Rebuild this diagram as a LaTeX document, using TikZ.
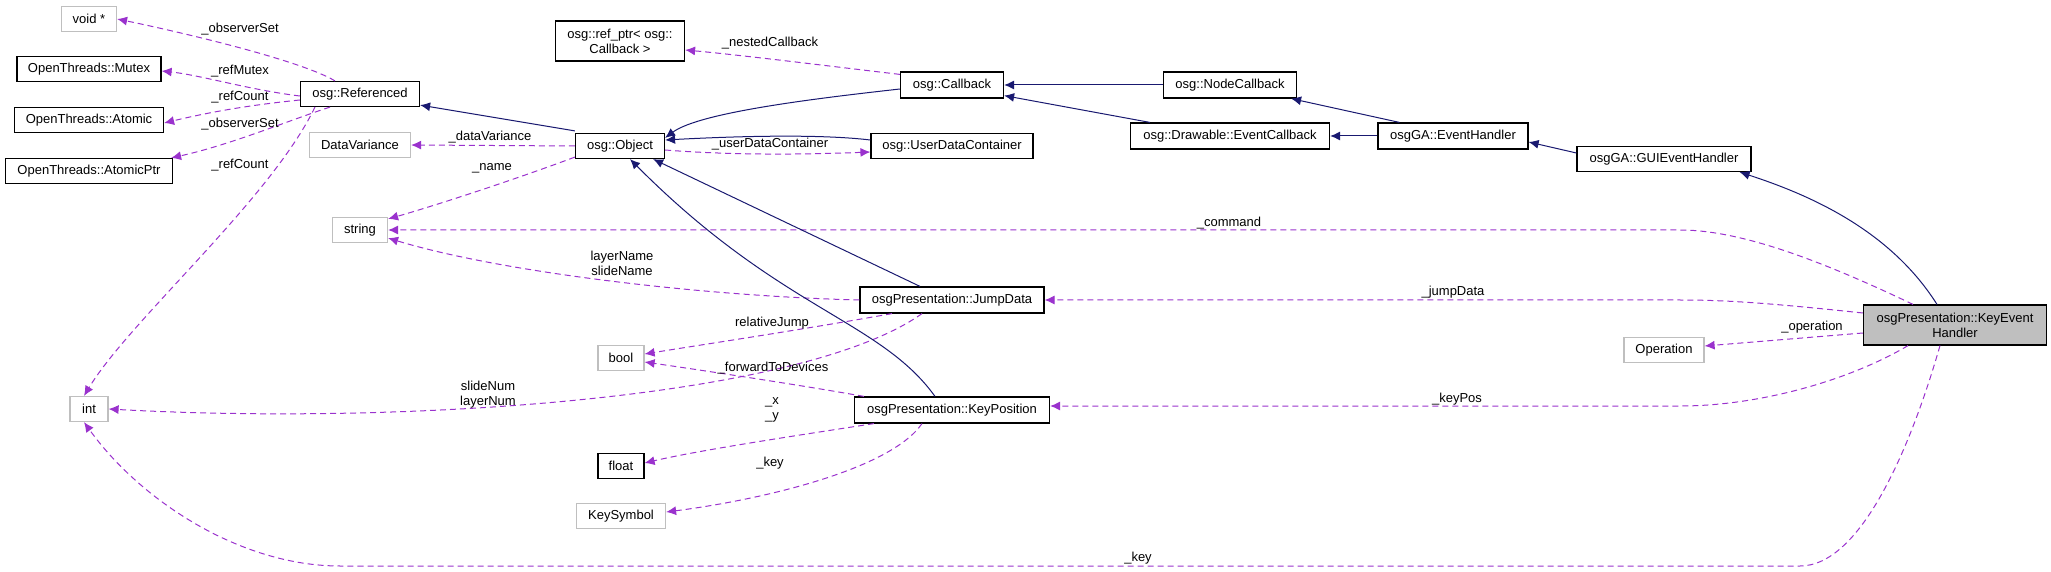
\documentclass[tikz,border=0pt]{standalone}
\usepackage{fontspec}
\setmainfont{Liberation Sans}
\usetikzlibrary{arrows.meta,calc}
\definecolor{navy}{HTML}{191970}
\definecolor{orch}{HTML}{9A32CD}
\definecolor{gbord}{HTML}{BFBFBF}
\begin{document}
\begin{tikzpicture}[x=0.5pt,y=-0.5pt,
  every node/.style={font=\fontsize{6.5}{7.5}\selectfont, inner sep=0pt},
  box/.style={draw=black, line width=0.6pt, minimum height=12.5pt, fill=white},
  gbox/.style={draw=gbord, line width=0.6pt, minimum height=12.5pt, fill=white},
  lbl/.style={align=center},
  inh/.style={draw=navy, line width=0.5pt, -{Latex[length=5pt,width=4.5pt]}},
  dep/.style={draw=orch, line width=0.5pt, dash pattern=on 3pt off 2pt, -{Latex[length=5pt,width=4.5pt]}}]
\useasboundingbox (0,0) rectangle (2051,572);
% nodes
\node[gbox, minimum width=27.5pt] (V) at (89,19) {void *};
\node[box, minimum width=72pt] (M) at (89,69) {OpenThreads::Mutex};
\node[box, minimum width=74.5pt] (A) at (89,120) {OpenThreads::Atomic};
\node[box, minimum width=83.5pt] (AP) at (89,171) {OpenThreads::AtomicPtr};
\node[box, minimum width=59.5pt] (R) at (360,94) {osg::Referenced};
\node[gbox, minimum width=50.5pt] (DV) at (360,145) {DataVariance};
\node[gbox, minimum width=27.5pt] (S) at (360,230) {string};
\node[gbox, minimum width=19pt] (I) at (89,409) {int};
\node[box, minimum width=44.5pt] (O) at (620,146) {osg::Object};
\node[box, minimum width=64.5pt, minimum height=20pt, align=center] (RP) at (620,41) {osg::ref\_ptr< osg::\\Callback >};
\node[box, minimum width=51.5pt, minimum height=13pt] (CB) at (952,85) {osg::Callback};
\node[box, minimum width=66.5pt, minimum height=13pt] (NC) at (1230,85) {osg::NodeCallback};
\node[box, minimum width=81pt] (UDC) at (952,146) {osg::UserDataContainer};
\node[box, minimum width=99.5pt, minimum height=13pt] (EC) at (1230,136) {osg::Drawable::EventCallback};
\node[box, minimum width=75pt, minimum height=13pt] (EH) at (1453,136) {osgGA::EventHandler};
\node[box, minimum width=87pt] (GUI) at (1664,159) {osgGA::GUIEventHandler};
\node[box, minimum width=91.5pt, minimum height=20pt, fill=gbord, align=center] (KEH) at (1955,325) {osgPresentation::KeyEvent\\Handler};
\node[gbox, minimum width=40pt] (OP) at (1664,350) {Operation};
\node[box, minimum width=92pt, minimum height=13pt] (JD) at (952,300) {osgPresentation::JumpData};
\node[box, minimum width=97.5pt, minimum height=13pt] (KP) at (952,410) {osgPresentation::KeyPosition};
\node[gbox, minimum width=23pt] (B) at (621,358) {bool};
\node[box, minimum width=23pt] (F) at (621,466) {float};
\node[gbox, minimum width=44.5pt] (KS) at (621,516) {KeySymbol};
% Referenced members
\draw[dep] ($(R.north)+(-25,0)$) .. controls (300,60) and (180,32) .. (V.east);
\draw[dep] ($(R.west)+(0,2)$) .. controls (250,90) and (200,75) .. ($(M.east)+(0,2)$);
\draw[dep] ($(R.west)+(0,6)$) .. controls (250,105) and (210,112) .. ($(A.east)+(0,3)$);
\draw[dep] ($(R.south)+(-30,0)$) .. controls (290,120) and (230,145) .. ($(AP.north east)+(-2,0)$);
\draw[dep] ($(R.south)+(-45,0)$) .. controls (270,200) and (130,320) .. ($(I.north)+(-5,0)$);
\node[lbl] (l1) at (240,29) {\_observerSet};
\node[lbl] (l2) at (240,71) {\_refMutex};
\node[lbl] (l3) at (240,97) {\_refCount};
\node[lbl] (l4) at (240,124) {\_observerSet};
\node[lbl] (l5) at (240,165) {\_refCount};
% Object
\draw[inh] ($(O.north west)+(0,-2)$) -- ($(R.south east)+(0,-2)$);
\draw[dep] (O.west) -- (DV.east);
\draw[dep] ($(O.south west)+(0,-2)$) .. controls (500,185) and (420,210) .. ($(S.north east)+(0,2)$);
\node[lbl] (l6) at (490,137) {\_dataVariance};
\node[lbl] (l7) at (492,168) {\_name};
\draw[inh] ($(CB.west)+(0,4)$) .. controls (820,98) and (700,112) .. ($(O.north east)+(0,5)$);
\draw[dep] ($(CB.north west)+(0,3)$) .. controls (820,65) and (740,55) .. ($(RP.east)+(0,9)$);
\node[lbl] (l8) at (770,43) {\_nestedCallback};
\draw[inh] ($(UDC.west)+(0,-6)$) .. controls (820,134) and (740,136) .. ($(O.east)+(0,-6)$);
\draw[dep] ($(O.east)+(0,4)$) .. controls (740,156) and (820,154) .. ($(UDC.west)+(0,6)$);
\node[lbl] (l9) at (770,144) {\_userDataContainer};
\draw[inh] (NC.west) -- (CB.east);
\draw[inh] ($(EC.north west)+(20,0)$) -- ($(CB.south east)+(0,-3)$);
\draw[inh] (EH.west) -- (EC.east);
\draw[inh] ($(EH.north west)+(22,0)$) -- ($(NC.south east)+(-6,0)$);
\draw[inh] ($(GUI.west)+(0,-6)$) -- ($(EH.east)+(0,6)$);
\draw[inh] ($(KEH.north)+(-18,0)$) .. controls (1890,230) and (1810,195) .. ($(GUI.south east)+(-12,0)$);
% KeyEventHandler members
\draw[dep] ($(KEH.north)+(-42,0)$) .. controls (1820,260) and (1740,230) .. (1680,230) -- (S.east);
\node[lbl] (l10) at (1229,223) {\_command};
\draw[dep] ($(KEH.west)+(0,-12)$) .. controls (1760,302) and (1720,300) .. (1680,300) -- (JD.east);
\node[lbl] (l11) at (1453,292) {\_jumpData};
\draw[dep] ($(KEH.west)+(0,8)$) -- ($(OP.east)+(0,-4)$);
\node[lbl] (l12) at (1812,327) {\_operation};
\draw[dep] ($(KEH.south)+(-47,0)$) .. controls (1850,380) and (1760,406) .. (1680,406) -- ($(KP.east)+(0,-4)$);
\node[lbl] (l13) at (1457,399) {\_keyPos};
\draw[dep] ($(KEH.south)+(-15,0)$) .. controls (1910,450) and (1860,566) .. (1800,566) -- (340,566) .. controls (240,566) and (140,500) .. ($(I.south)+(-5,0)$);
\node[lbl] (l14) at (1138,558) {\_key};
% JumpData
\draw[inh] ($(JD.north)+(-32,0)$) -- ($(O.south east)+(-12,0)$);
\draw[dep] (JD.west) .. controls (700,296) and (500,272) .. ($(S.south east)+(0,-5)$);
\node[lbl] (l15) at (622,263) {layerName\\slideName};
\draw[dep] ($(JD.south)+(-60,0)$) .. controls (800,330) and (700,345) .. ($(B.east)+(0,-4)$);
\node[lbl] (l16) at (772,323) {relativeJump};
\draw[dep] ($(JD.south)+(-30,0)$) .. controls (800,400) and (400,425) .. (I.east);
\node[lbl] (l17) at (488,395) {slideNum\\layerNum};
% KeyPosition
\draw[inh] ($(KP.north)+(-17,0)$) .. controls (880,320) and (780,310) .. ($(O.south)+(10,0)$);
\draw[dep] ($(KP.north west)+(10,0)$) .. controls (800,385) and (700,370) .. ($(B.east)+(0,4)$);
\node[lbl] (l18) at (773,368) {\_forwardToDevices};
\draw[dep] ($(KP.south west)+(20,0)$) .. controls (800,435) and (700,450) .. ($(F.east)+(0,-3)$);
\node[lbl] (l19) at (772,410) {\_x\\\_y};
\draw[dep] ($(KP.south)+(-30,0)$) .. controls (890,470) and (760,500) .. ($(KS.east)+(0,-4)$);
\node[lbl] (l20) at (770,463) {\_key};
\end{tikzpicture}
\end{document}
